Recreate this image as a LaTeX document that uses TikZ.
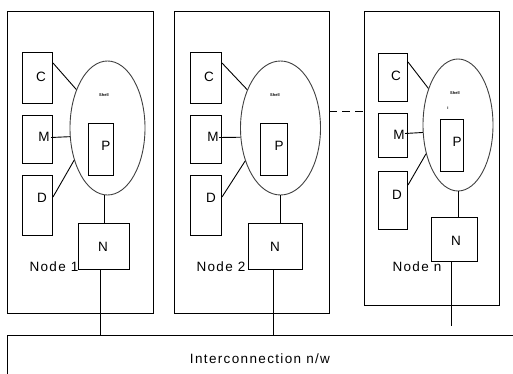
\documentclass[tikz,border=0pt]{standalone}
\usepackage{fontspec}
\setmainfont{Liberation Sans}
\newfontfamily\lblfont[LetterSpace=10]{Liberation Sans}
\usetikzlibrary{shapes.geometric,calc}
\tikzset{
  frame/.style={draw, line width=1pt, rectangle, anchor=north west, inner sep=0pt},
  unit/.style={draw, line width=1pt, rectangle, anchor=north west, inner sep=0pt},
  shellellipse/.style={draw, line width=0.9pt, ellipse, inner sep=0pt, draw=black!75},
  lbl/.style={font=\lblfont\fontsize{13.5}{13.5}\selectfont, inner sep=0pt},
  tiny/.style={font=\fontsize{4}{4}\selectfont\bfseries, inner sep=0pt},
  link/.style={line width=0.9pt},
}
\begin{document}
\begin{tikzpicture}[x=1pt,y=-1pt]
\useasboundingbox (0,0) rectangle (513,374);
% outer node frames
\node[frame, minimum width=146, minimum height=302] (nd1) at (7,11) {};
\node[frame, minimum width=155, minimum height=302] (nd2) at (174,11) {};
\node[frame, minimum width=135, minimum height=294] (ndn) at (364,11) {};
% interconnection
\node[frame, minimum width=530, minimum height=60] (ic) at (7,335) {};
\node[lbl] (ictext) at (260,359) {Interconnection n/w};
% ---- Node 1
\node[unit, minimum width=30, minimum height=51] (c1) at (22,52) {};
\node[unit, minimum width=30, minimum height=48] (m1) at (22,115) {};
\node[unit, minimum width=30, minimum height=60] (d1) at (22,175) {};
\node[shellellipse, minimum width=75, minimum height=134] (e1) at (107.5,128) {};
\node[unit, minimum width=25, minimum height=52] (p1) at (88,123) {};
\node[unit, minimum width=51, minimum height=46] (n1) at (78,223) {};
\node[lbl] (c1t) at (41,77) {C};
\node[lbl] (m1t) at (44,137) {M};
\node[lbl] (d1t) at (42,198) {D};
\node[lbl] (p1t) at (106,146) {P};
\node[lbl] (n1t) at (103,247) {N};
\node[tiny] (s1) at (104,95) {Shell};
\node[lbl] (nl1) at (54,267) {Node 1};
\coordinate (n1out) at (100,269);
\coordinate (n1in) at (100,335);
\draw[link] ($(c1.north east)+(0,11)$) -- (e1.129);
\draw[link] ($(m1.east)+(-2,-2)$) -- (e1.193);
\draw[link] ($(d1.north east)+(0,22)$) -- (e1.224);
\draw[link] (n1.north |- e1.south) -- (n1.north);
\draw[link] (n1out) -- (n1in);
% ---- Node 2
\node[unit, minimum width=31, minimum height=51] (c2) at (190,52) {};
\node[unit, minimum width=31, minimum height=48] (m2) at (190,115) {};
\node[unit, minimum width=31, minimum height=60] (d2) at (190,175) {};
\node[shellellipse, minimum width=80, minimum height=134] (e2) at (280.5,128) {};
\node[unit, minimum width=27, minimum height=52] (p2) at (260,123) {};
\node[unit, minimum width=54, minimum height=46] (n2) at (248,223) {};
\node[lbl] (c2t) at (209,77) {C};
\node[lbl] (m2t) at (213,137) {M};
\node[lbl] (d2t) at (211,198) {D};
\node[lbl] (p2t) at (279,146) {P};
\node[lbl] (n2t) at (275,247) {N};
\node[tiny] (s2) at (275,95) {Shell};
\node[lbl] (nl2) at (221,267) {Node 2};
\coordinate (n2out) at (273,269);
\coordinate (n2in) at (273,335);
\draw[link] ($(c2.north east)+(0,11)$) -- (e2.131);
\draw[link] ($(m2.east)+(-3,-2)$) -- (e2.193);
\draw[link] ($(d2.north east)+(0,22)$) -- (e2.223);
\draw[link] (e2.south) -- (e2.south |- n2.north);
\draw[link] (n2out) -- (n2in);
% ---- Node n
\node[unit, minimum width=29, minimum height=48] (c3) at (378,53) {};
\node[unit, minimum width=29, minimum height=44] (m3) at (378,113) {};
\node[unit, minimum width=29, minimum height=58] (d3) at (378,171) {};
\node[shellellipse, minimum width=70, minimum height=132] (e3) at (458,125) {};
\node[unit, minimum width=23, minimum height=52] (p3) at (440,119) {};
\node[unit, minimum width=46, minimum height=44] (n3) at (431,217) {};
\node[lbl] (c3t) at (396,76) {C};
\node[lbl] (m3t) at (399,135) {M};
\node[lbl] (d3t) at (397,195) {D};
\node[lbl] (p3t) at (457,142) {P};
\node[lbl] (n3t) at (456,241) {N};
\node[tiny] (s3) at (455,93) {Shell};
\node[tiny] (i3) at (448,108) {i};
\node[lbl] (nl3) at (417,267) {Node n};
\coordinate (n3out) at (451,261);
\coordinate (n3end) at (451,326);
\draw[link] ($(c3.north east)+(0,9)$) -- (e3.129);
\draw[link] ($(m3.east)+(-3,-2)$) -- (e3.192);
\draw[link] ($(d3.north east)+(0,14)$) -- (e3.222);
\draw[link] (e3.south) -- (e3.south |- n3.north);
\draw[link] (n3out) -- (n3end);
% dashed link between node 2 and node n
\coordinate (dl) at (329,111);
\coordinate (dr) at (364,111);
\draw[link, dash pattern=on 8pt off 5pt] (dl) -- (dr);
\end{tikzpicture}
\end{document}
